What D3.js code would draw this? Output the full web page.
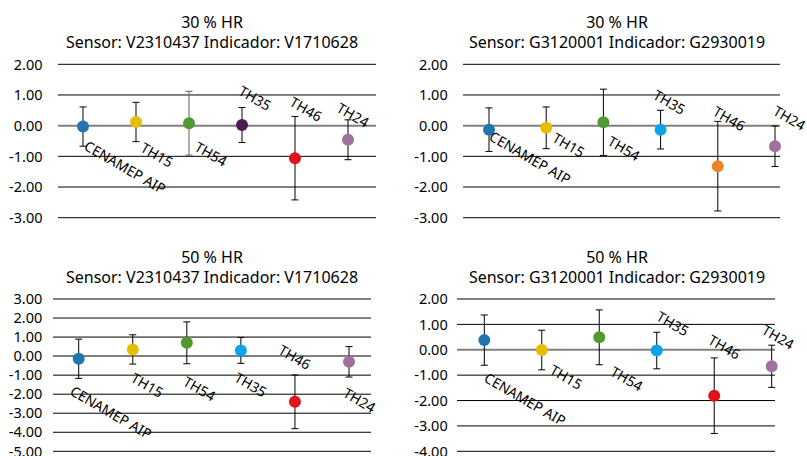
<!DOCTYPE html>
<meta charset="utf-8">
<style>
body { margin: 0; background: #fff; }
text { font-family: "Noto Sans", sans-serif; fill: #000; }
.grid line { stroke: #000; stroke-width: 1; }
.grid line.zero { stroke: #808080; stroke-width: 2; }
.tick-label { font-size: 14.5px; }
.title { font-size: 16px; }
.pt-label { font-size: 14px; }
.err { stroke: #000; stroke-width: 1; fill: none; }
</style>
<body>
<svg width="807" height="456"></svg>
<script src="https://d3js.org/d3.v7.min.js"></script>
<script>

// categories shared by all four charts
var categories = ["CENAMEP AIP", "TH15", "TH54", "TH35", "TH46", "TH24"];

// 30 % HR, V2310437 / V1710628
var p1Values = [-0.03, 0.12, 0.08, 0.02, -1.06, -0.46];
var p1Errors = [0.64, 0.64, 1.04, 0.57, 1.36, 0.65];
var p1Colors = ["#2176AE", "#E5BE01", "#4E9A2E", "#4B1C50", "#E2121B", "#A0719A"];
var p1Ticks = [2, 1, 0, -1, -2, -3];

// 30 % HR, G3120001 / G2930019
var p2Values = [-0.13, -0.07, 0.11, -0.13, -1.32, -0.67];
var p2Errors = [0.71, 0.68, 1.08, 0.63, 1.46, 0.66];
var p2Colors = ["#2176AE", "#E5BE01", "#4E9A2E", "#0AA5E8", "#E8832E", "#A0719A"];
var p2Ticks = [2, 1, 0, -1, -2, -3];

// 50 % HR, V2310437 / V1710628
var p3Values = [-0.14, 0.35, 0.70, 0.30, -2.40, -0.30];
var p3Errors = [1.03, 0.77, 1.10, 0.68, 1.41, 0.80];
var p3Colors = ["#2176AE", "#E5BE01", "#4E9A2E", "#0AA5E8", "#E2121B", "#A0719A"];
var p3Ticks = [3, 2, 1, 0, -1, -2, -3, -4, -5];

// 50 % HR, G3120001 / G2930019
var p4Values = [0.38, -0.01, 0.49, -0.03, -1.81, -0.65];
var p4Errors = [0.99, 0.78, 1.08, 0.72, 1.49, 0.83];
var p4Colors = ["#2176AE", "#E5BE01", "#4E9A2E", "#0AA5E8", "#E2121B", "#A0719A"];
var p4Ticks = [2, 1, 0, -1, -2, -3, -4];

var titles1 = ["30 % HR", "30 % HR", "50 % HR", "50 % HR"];
var titles2 = ["Sensor: V2310437 Indicador: V1710628", "Sensor: G3120001 Indicador: G2930019",
               "Sensor: V2310437 Indicador: V1710628", "Sensor: G3120001 Indicador: G2930019"];

// where the rotated point labels sit: [dx px from point, y in axis units]
var p1LabelPos = [[0, -0.76], [3.5, -0.82], [4.5, -0.79], [-4.5, 1.03], [-6.5, 0.67], [-12.5, 0.48]];
var p2LabelPos = [[-1, -0.45], [5, -0.5], [3, -0.61], [-8.7, 0.9], [-6, 0.36], [-3, 0.38]];
var p3LabelPos = [[-9.7, -2.0], [-3, -1.31], [-4.7, -1.5], [-7.7, -1.29], [-17.7, 0.16], [-7, -2.1]];
var p4LabelPos = [[-1.3, -1.23], [7, -0.92], [10, -0.98], [-1.5, 1.19], [-7.3, 0.27], [-11, 0.66]];

// layout of each chart on the page
var layouts = [
  {gx0: 58, gx1: 376, px0: 83, px1: 348, yTop: 64.3, yBot: 217.7, tx: 212, ty: 28, labRight: 42.5},
  {gx0: 463, gx1: 780, px0: 489, px1: 775, yTop: 64.3, yBot: 217.7, tx: 617, ty: 28, labRight: 447.7},
  {gx0: 53, gx1: 371, px0: 78.7, px1: 349, yTop: 299, yBot: 451.3, tx: 212, ty: 263, labRight: 42.3},
  {gx0: 457, gx1: 775, px0: 484.3, px1: 771.7, yTop: 299, yBot: 451.3, tx: 617, ty: 263, labRight: 447.7}
];

var panels = [
  {values: p1Values, errors: p1Errors, colors: p1Colors, ticks: p1Ticks, labelPos: p1LabelPos, errColors: ["#000", "#000", "#5f5f5f", "#000", "#000", "#000"]},
  {values: p2Values, errors: p2Errors, colors: p2Colors, ticks: p2Ticks, labelPos: p2LabelPos},
  {values: p3Values, errors: p3Errors, colors: p3Colors, ticks: p3Ticks, labelPos: p3LabelPos},
  {values: p4Values, errors: p4Errors, colors: p4Colors, ticks: p4Ticks, labelPos: p4LabelPos}
];

var svg = d3.select("svg");

panels.forEach(function(p, k) {
  var L = layouts[k];
  var g = svg.append("g");

  var x = d3.scalePoint().domain(categories).range([L.px0, L.px1]);
  var y = d3.scaleLinear()
      .domain([d3.max(p.ticks), d3.min(p.ticks)])
      .range([L.yTop, L.yBot]);

  g.append("text").attr("class", "title")
      .attr("x", L.tx).attr("y", L.ty)
      .attr("text-anchor", "middle")
      .text(titles1[k]);
  g.append("text").attr("class", "title")
      .attr("x", L.tx).attr("y", L.ty + 20)
      .attr("text-anchor", "middle")
      .text(titles2[k]);

  var grid = g.append("g").attr("class", "grid");
  grid.selectAll("line")
    .data(p.ticks)
    .enter().append("line")
      .attr("class", function(d) { return d === 0 ? "zero" : null; })
      .attr("x1", L.gx0).attr("x2", L.gx1)
      .attr("y1", function(d) { return y(d); })
      .attr("y2", function(d) { return y(d); });

  g.selectAll(".tick-label")
    .data(p.ticks)
    .enter().append("text")
      .attr("class", "tick-label")
      .attr("x", L.labRight)
      .attr("y", function(d) { return y(d); })
      .attr("dy", "0.36em")
      .attr("text-anchor", "end")
      .text(function(d) { return d3.format(".2f")(d).replace("−", "-"); });

  var rows = categories.map(function(c, i) {
    return {cat: c, v: p.values[i], e: p.errors[i], color: p.colors[i],
            ec: p.errColors ? p.errColors[i] : "#000", lp: p.labelPos[i]};
  });

  var cap = 3.5;
  g.selectAll(".err").data(rows).enter().append("path")
      .attr("class", "err")
      .style("stroke", function(d) { return d.ec; })
      .attr("d", function(d) {
        var cx = x(d.cat), t = y(d.v + d.e), b = y(d.v - d.e);
        return "M" + cx + "," + t + "V" + b +
               "M" + (cx - cap) + "," + t + "H" + (cx + cap) +
               "M" + (cx - cap) + "," + b + "H" + (cx + cap);
      });

  g.selectAll(".dot").data(rows).enter().append("circle")
      .attr("cx", function(d) { return x(d.cat); })
      .attr("cy", function(d) { return y(d.v); })
      .attr("r", 6)
      .attr("fill", function(d) { return d.color; });

  g.selectAll(".pt-label").data(rows).enter().append("text")
      .attr("class", "pt-label")
      .attr("transform", function(d) {
        var lx = x(d.cat) + d.lp[0], ly = y(d.lp[1]);
        return "translate(" + lx + "," + ly + ") rotate(30)";
      })
      .text(function(d) { return d.cat; });
});

</script>
</body>
